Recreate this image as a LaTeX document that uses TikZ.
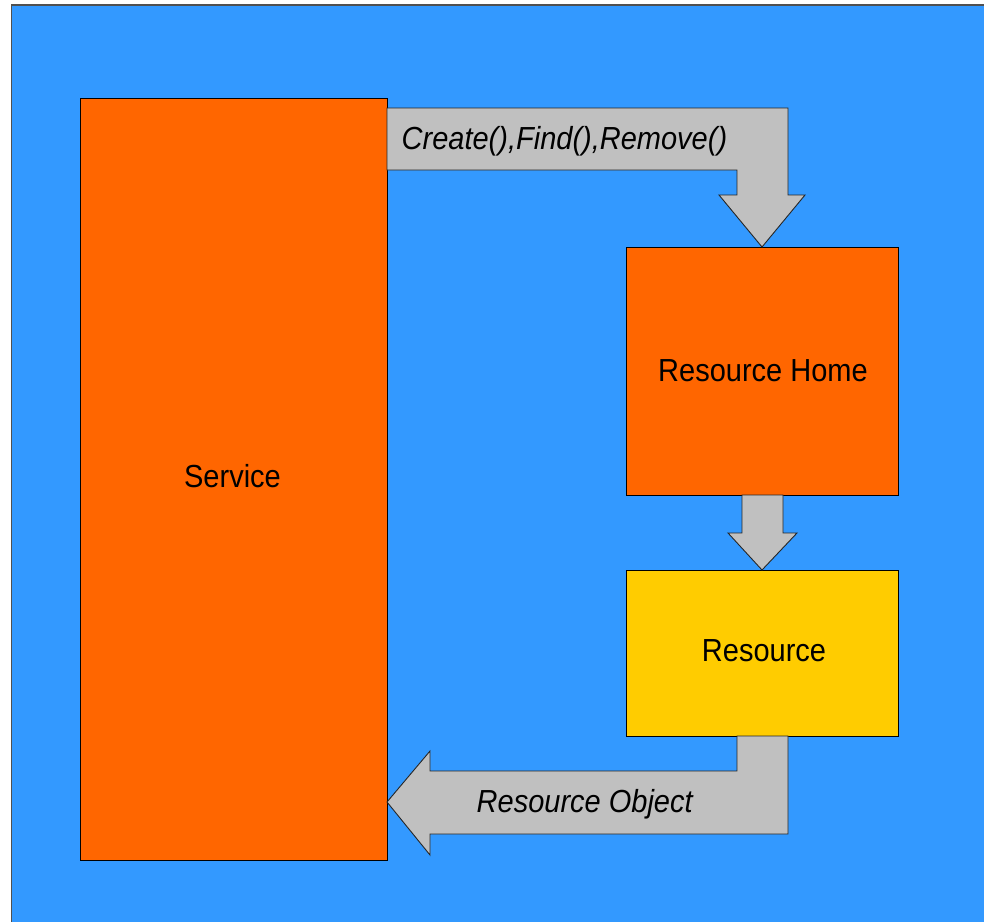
\documentclass[tikz,border=0pt]{standalone}
\usepackage{fontspec}
\setmainfont{Liberation Sans}
\definecolor{bgblue}{HTML}{3399FF}
\definecolor{boxorange}{HTML}{FF6600}
\definecolor{boxyellow}{HTML}{FFCC00}
\definecolor{arrowgray}{HTML}{C0C0C0}
\definecolor{frame}{HTML}{505050}
\newcommand{\lbl}[1]{\scalebox{1}[1.1]{#1}}
\tikzset{
  block/.style={draw=black, line width=1pt, anchor=north west, inner sep=0pt, outer sep=0pt},
  blockarrow/.style={draw=black!85, line width=0.9pt, fill=arrowgray, line join=miter},
  caption/.style={inner sep=0pt, font=\fontsize{29}{34}\selectfont},
}
\begin{document}
\begin{tikzpicture}[x=1pt,y=-1pt]
\useasboundingbox (0,0) rectangle (984,921);
% backdrop
\fill[bgblue] (11.5,5) rectangle (990,930);
\draw[frame, line width=1.6pt] (11.5,930) -- (11.5,5) -- (990,5);

% boxes
\node[block, fill=boxorange, minimum width=307pt, minimum height=762pt] (service) at (80,98) {};
\node[block, fill=boxorange, minimum width=272.5pt, minimum height=248pt] (home) at (626,247) {};
\node[block, fill=boxyellow, minimum width=272.5pt, minimum height=166pt] (resource) at (626,570) {};

% block arrows
\draw[blockarrow] (387,108) -- (788,108) -- (788,195) -- (805,195) -- (762,247)
  -- (719,195) -- (737,195) -- (737,170) -- (387,170) -- cycle;
\draw[blockarrow] (742,495) -- (783,495) -- (783,533) -- (797,533) -- (762,570)
  -- (728,533) -- (742,533) -- cycle;
\draw[blockarrow] (737,736) -- (788,736) -- (788,834) -- (430,834) -- (430,855)
  -- (387,802) -- (430,751) -- (430,771) -- (737,771) -- cycle;

% labels
\node[caption, anchor=base] (svclabel) at (232.5,487.7) {\lbl{Service}};
\node[caption, anchor=base] (homelabel) at (763,381.7) {\lbl{Resource Home}};
\node[caption, anchor=base] (reslabel) at (764,661.7) {\lbl{Resource}};
\node[caption, anchor=base west] (calls) at (401.5,149.3) {\lbl{\itshape Create(),Find(),Remove()}};
\node[caption, anchor=base west] (obj) at (476.5,812.7) {\lbl{\itshape Resource Object}};
\end{tikzpicture}
\end{document}
